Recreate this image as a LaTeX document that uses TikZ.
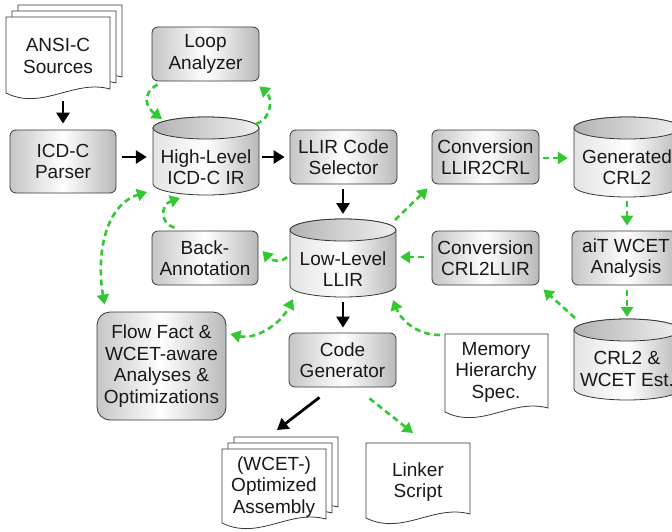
\documentclass[tikz,border=0pt]{standalone}
\usepackage{fontspec}
\setmainfont{Liberation Sans}
\usetikzlibrary{arrows.meta,calc}

\definecolor{flowgreen}{RGB}{50,200,50}
\definecolor{edgegray}{RGB}{55,55,55}

\tikzset{
  txt/.style={align=center, inner sep=0pt, text=black!90},
  box/.style={txt, draw=edgegray, line width=0.8pt, rounded corners=6pt,
    left color=gray!45, right color=gray!55, middle color=white},
  bigbox/.style={box, rounded corners=13pt},
  cylbody/.style={draw=edgegray, line width=0.8pt,
    left color=gray!22, right color=gray!55, middle color=white},
  cyltop/.style={draw=edgegray, line width=0.8pt,
    left color=gray!60, right color=gray!12},
  docshape/.style={draw=edgegray, line width=0.8pt, fill=white},
  flow/.style={line width=2.8pt, -{Triangle[length=11pt,width=13pt]}},
  gflow/.style={flowgreen, line width=2.6pt, dash pattern=on 6pt off 4pt,
    -{Triangle[length=10pt,width=12pt]}},
  gboth/.style={gflow, {Triangle[length=10pt,width=12pt]}-{Triangle[length=10pt,width=12pt]}},
}

% database drum: centre x, top, bottom
\newcommand\dbdraw[3]{%
  \path[cylbody] ({#1-53},{#2+11}) -- ({#1-53},{#3-11})
    arc[start angle=180, end angle=360, x radius=53pt, y radius=11pt]
    -- ({#1+53},{#2+11})
    arc[start angle=0, end angle=180, x radius=53pt, y radius=11pt] -- cycle;
  \path[cyltop] (#1,{#2+11}) ellipse[x radius=53pt, y radius=11pt];
}

% sheet with a wavy lower edge: left, right, top, lower-left corner
\newcommand\docdraw[4]{%
  \path[docshape] (#1,#3) -- (#2,#3) -- (#2,{#4-4})
    .. controls ({#2-0.35*(#2-#1)},{#4-14}) and ({#1+0.35*(#2-#1)},{#4+18}) .. (#1,#4)
    -- cycle;
}

\begin{document}
\begin{tikzpicture}[x=1pt, y=-1pt, font=\fontsize{19}{21.5}\selectfont]
\useasboundingbox (0,0) rectangle (672,531);
\clip (0,0) rectangle (672,531);

% ---- source files
\docdraw{18}{122}{5}{81}
\docdraw{12}{116}{11}{87}
\docdraw{6}{110}{17}{93}
\node[txt] (ansi) at (58,56) {ANSI-C\\Sources};

% ---- front end
\node[box, minimum width=106pt, minimum height=63pt] (parser) at (63,161.5) {ICD-C\\Parser};
\node[box, minimum width=107pt, minimum height=54pt] (loop) at (205.5,54) {Loop\\Analyzer};

\dbdraw{206}{117}{195}
\node[txt, minimum width=106pt, minimum height=78pt] (hl) at (206,167) {High-Level\\ICD-C IR};

\node[box, minimum width=107pt, minimum height=54pt] (sel) at (343.5,157) {LLIR Code\\Selector};

\dbdraw{343}{219}{297}
\node[txt, minimum width=106pt, minimum height=78pt] (ll) at (343,269) {Low-Level\\LLIR};

\node[box, minimum width=106pt, minimum height=54pt] (back) at (205,258) {Back-\\Annotation};
\node[bigbox, minimum width=129pt, minimum height=108pt] (ff) at (161.5,366)
  {Flow Fact \&\\WCET-aware\\Analyses \&\\Optimizations};
\node[box, minimum width=107pt, minimum height=54pt] (cg) at (342.5,360) {Code\\Generator};

% ---- WCET analyser coupling
\node[box, minimum width=107pt, minimum height=54pt] (l2c) at (485.5,157) {Conversion\\LLIR2CRL};
\node[box, minimum width=107pt, minimum height=54pt] (c2l) at (485.5,258) {Conversion\\CRL2LLIR};

\dbdraw{627}{117}{197}
\node[txt, minimum width=106pt, minimum height=78pt] (gen) at (627,167) {Generated\\CRL2};

\node[box, minimum width=108pt, minimum height=54pt] (ait) at (626,258) {aiT WCET\\Analysis};

\dbdraw{627}{319}{400}
\node[txt, minimum width=106pt, minimum height=78pt] (crl) at (627,369) {CRL2 \&\\WCET Est.};

% ---- output and spec files
\docdraw{445}{548}{334}{412}
\node[txt] (mem) at (496,372) {Memory\\Hierarchy\\Spec.};

\docdraw{234}{338}{437}{511}
\docdraw{228}{332}{443}{517}
\docdraw{222}{326}{449}{523}
\node[txt] (asm) at (274,487) {(WCET-)\\Optimized\\Assembly};

\docdraw{366}{470}{443}{518}
\node[txt] (lnk) at (418,482) {Linker\\Script};

% ---- main compilation flow
\draw[flow] ($(ansi.center)+(5,45)$) -- ($(parser.north)+(0,-6)$);
\draw[flow] ($(parser.east)+(6,-4.5)$) -- ($(hl.west)+(-6,-10)$);
\draw[flow] ($(hl.east)+(3,-10)$) -- ($(sel.west)+(-5,0)$);
\draw[flow] ($(sel.south)+(-0.5,5)$) -- ($(ll.center)+(0,-55)$);
\draw[flow] ($(ll.center)+(0,33)$) -- ($(cg.north)+(0.5,-5)$);
\draw[flow] ($(cg.south)+(-23,10)$) -- ($(asm.center)+(3,-57)$);

% ---- analysis and feedback flow
\draw[gflow] ($(loop.south west)+(6,3)$) .. controls (140,95) and (147,108) .. ($(hl.center)+(-44,-48)$);
\draw[gflow] ($(hl.center)+(50,-43)$) .. controls (273,118) and (272,97) .. ($(loop.south east)+(0,5)$);
\draw[gflow] ($(ll.center)+(52,-49)$) -- ($(l2c.south west)+(-4,4)$);
\draw[gflow] ($(l2c.east)+(4,1)$) -- ($(gen.west)+(-6,-9)$);
\draw[gflow] ($(gen.center)+(0,34)$) -- ($(ait.north)+(1,-5)$);
\draw[gflow] ($(ait.south)+(1,5)$) -- ($(crl.center)+(0,-52)$);
\draw[gflow] ($(crl.center)+(-52,-51)$) -- ($(c2l.south east)+(4,4)$);
\draw[gflow] ($(c2l.west)+(-8,-1)$) -- ($(ll.east)+(4,-12)$);
\draw[gflow] ($(ll.center)+(-56,-12)$) .. controls (281,263) and (272,261) .. ($(back.east)+(4,-7)$);
\draw[gflow] ($(back.north west)+(23,-3)$) .. controls (160,224) and (160,205) .. ($(hl.center)+(-26,31)$);
\draw[gboth] ($(ff.north west)+(8,-7)$) .. controls (96,255) and (105,205) .. ($(hl.center)+(-59,25)$);
\draw[gboth] ($(ff.east)+(4,-32)$) .. controls (255,340) and (280,325) .. ($(ll.center)+(-50,30)$);
\draw[gflow] ($(mem.center)+(-56,-37)$) .. controls (415,335) and (400,318) .. ($(ll.center)+(50,31)$);
\draw[gflow] ($(cg.south)+(27,11)$) -- ($(lnk.center)+(-5,-49)$);
\end{tikzpicture}
\end{document}
